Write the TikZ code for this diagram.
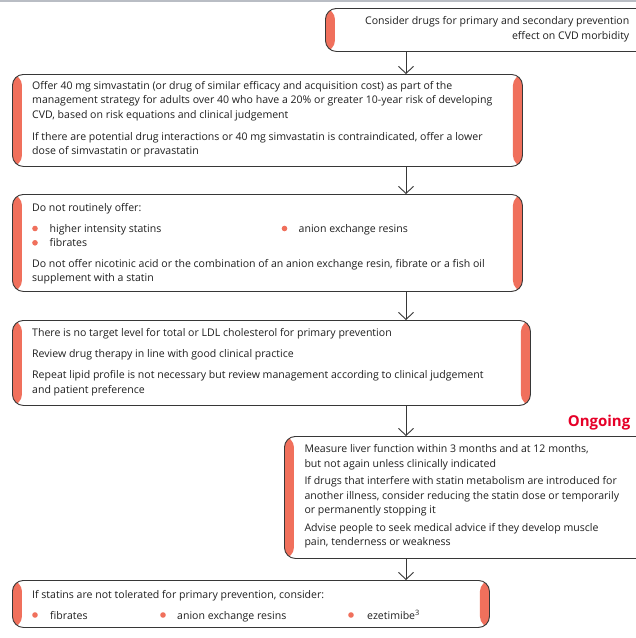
\documentclass[tikz,border=0pt]{standalone}
\usepackage{fontspec}
\setmainfont{Open Sans}
\usetikzlibrary{arrows.meta}
\definecolor{accent}{RGB}{240,112,92}
\definecolor{boxline}{RGB}{55,55,55}
\definecolor{ongoing}{RGB}{230,0,40}
\definecolor{topline}{RGB}{185,189,196}
\begin{document}
\begin{tikzpicture}[x=1pt,y=-1pt,
  cbox/.style={draw=boxline, line width=0.9pt, rounded corners=11pt, fill=white, inner sep=0pt, anchor=north west},
  lbar/.style={path picture={\fill[accent] (path picture bounding box.north west) rectangle ([xshift=9.5pt]path picture bounding box.south west);}},
  lrbar/.style={path picture={\fill[accent] (path picture bounding box.north west) rectangle ([xshift=9.5pt]path picture bounding box.south west);
     \fill[accent] ([xshift=-9.5pt]path picture bounding box.north east) rectangle (path picture bounding box.south east);}},
  txt/.style={inner sep=0pt, align=left, anchor=base west, font=\fontsize{10.55}{14.2}\selectfont, text=black!88},
  bul/.style={circle, fill=accent, inner sep=0pt, minimum size=5.6pt},
  arr/.style={draw=boxline, line width=0.9pt, -{Straight Barb[length=7pt,width=15pt,line width=0.9pt]}}
]
\clip (0,0) rectangle (636,638);
\fill[white] (0,0) rectangle (636,638);
\draw[topline, line width=1.6pt] (0,0.8) -- (636,0.8);
\coordinate (ax) at (406,0);

% boxes
\node[cbox, lbar, minimum width=340pt, minimum height=43pt] (b1) at (325,8) {};
\node[cbox, lrbar, minimum width=510pt, minimum height=92pt] (b2) at (12,74) {};
\node[cbox, lrbar, minimum width=510pt, minimum height=97pt] (b3) at (12,194) {};
\node[cbox, lrbar, minimum width=518pt, minimum height=85pt] (b4) at (12,320) {};
\node[cbox, lbar, minimum width=380pt, minimum height=122pt] (b5) at (284,436) {};
\node[cbox, lrbar, minimum width=477pt, minimum height=47pt] (b6) at (12,580) {};

% connectors
\draw[arr] (b1.south -| ax) -- (b2.north -| ax);
\draw[arr] (b2.south -| ax) -- (b3.north -| ax);
\draw[arr] (b3.south -| ax) -- (b4.north -| ax);
\draw[arr] (b4.south -| ax) -- (b5.north -| ax);
\draw[arr] (b5.south -| ax) -- (b6.north -| ax);

% box 1 (anchor = baseline of last line)
\node[txt, align=right, anchor=base east] (t1) at (629.5,39) {Consider drugs for primary and secondary prevention\\effect on CVD morbidity};

% box 2
\node[txt] (t2a) at (32,118.1) {Offer 40 mg simvastatin (or drug of similar efficacy and acquisition cost) as part of the\\management strategy for adults over 40 who have a 20\% or greater 10-year risk of developing\\CVD, based on risk equations and clinical judgement};
\node[txt] (t2b) at (32,154.5) {If there are potential drug interactions or 40 mg simvastatin is contraindicated, offer a lower\\dose of simvastatin or pravastatin};

% box 3
\node[txt] (t3a) at (32,211) {Do not routinely offer:};
\node[bul] (d3a) at (35,228.5) {};
\node[txt] (t3b) at (49.5,232.3) {higher intensity statins};
\node[bul] (d3b) at (35,242.8) {};
\node[txt] (t3c) at (49.5,246.6) {fibrates};
\node[bul] (d3c) at (284.5,228.5) {};
\node[txt] (t3d) at (298.5,232.3) {anion exchange resins};
\node[txt] (t3e) at (32,281.8) {Do not offer nicotinic acid or the combination of an anion exchange resin, fibrate or a fish oil\\supplement with a statin};

% box 4
\node[txt] (t4a) at (32,336) {There is no target level for total or LDL cholesterol for primary prevention};
\node[txt] (t4b) at (32,357.5) {Review drug therapy in line with good clinical practice};
\node[txt] (t4c) at (32,393) {Repeat lipid profile is not necessary but review management according to clinical judgement\\and patient preference};

% ongoing
\node[inner sep=0pt, anchor=base east, font=\fontsize{15}{17}\selectfont\bfseries, text=ongoing] (og) at (630.5,426.7) {Ongoing};

% box 5
\node[txt] (t5a) at (304.3,467) {Measure liver function within 3 months and at 12 months,\\but not again unless clinically indicated};
\node[txt] (t5b) at (304.3,513.3) {If drugs that interfere with statin metabolism are introduced for\\another illness, consider reducing the statin dose or temporarily\\or permanently stopping it};
\node[txt] (t5c) at (304.3,545.7) {Advise people to seek medical advice if they develop muscle\\pain, tenderness or weakness};

% box 6
\node[txt] (t6a) at (32,598) {If statins are not tolerated for primary prevention, consider:};
\node[bul] (d6a) at (35,615) {};
\node[txt] (t6b) at (50,619) {fibrates};
\node[bul] (d6b) at (163,615) {};
\node[txt] (t6c) at (177,619) {anion exchange resins};
\node[bul] (d6c) at (351,615) {};
\node[txt] (t6d) at (367,619) {ezetimibe\textsuperscript{3}};
\end{tikzpicture}
\end{document}
